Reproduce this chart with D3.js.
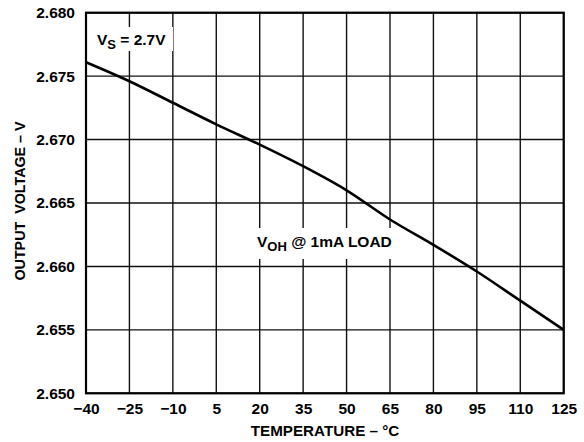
<!DOCTYPE html>
<html><head><meta charset="utf-8">
<script src="https://cdn.jsdelivr.net/npm/d3@7"></script>
<style>body{margin:0;background:#fff}svg text{font-family:"Liberation Sans",Arial,sans-serif;font-weight:bold;fill:#000}</style>
</head><body>
<svg id="c" width="584" height="442"></svg>
<script>
const temps = [-40, -25, -10, 5, 20, 35, 50, 65, 80, 95, 110, 125];
const voh = [2.6761, 2.6746, 2.6729, 2.6712, 2.6696, 2.6679, 2.6660, 2.6637, 2.6617, 2.6596, 2.6573, 2.6550];
const xTicks = [-40, -25, -10, 5, 20, 35, 50, 65, 80, 95, 110, 125];
const yTicks = [2.650, 2.655, 2.660, 2.665, 2.670, 2.675, 2.680];

const svg = d3.select("#c");
const L = 86, R = 563.7, T = 12.7, B = 393.3;
const x = d3.scaleLinear().domain([-40, 125]).range([L, R]);
const y = d3.scaleLinear().domain([2.650, 2.680]).range([B, T]);

const g = svg.append("g");
g.selectAll(".vx").data(xTicks).enter().append("line")
  .attr("x1", d => x(d)).attr("x2", d => x(d)).attr("y1", T).attr("y2", B)
  .attr("stroke", "#111").attr("stroke-width", 1.4);
g.selectAll(".hy").data(yTicks).enter().append("line")
  .attr("x1", L).attr("x2", R).attr("y1", d => y(d)).attr("y2", d => y(d))
  .attr("stroke", "#111").attr("stroke-width", 1.4);

svg.append("rect").attr("x", 93).attr("y", 27).attr("width", 80).attr("height", 24).attr("fill", "#fff");
svg.append("rect").attr("x", 251).attr("y", 228).attr("width", 149).attr("height", 31).attr("fill", "#fff");

svg.append("rect").attr("x", L).attr("y", T).attr("width", R - L).attr("height", B - T)
  .attr("fill", "none").attr("stroke", "#000").attr("stroke-width", 2.2);

svg.append("path").datum(temps.map((t, i) => [t, voh[i]]))
  .attr("d", d3.line().x(d => x(d[0])).y(d => y(d[1])).curve(d3.curveMonotoneX))
  .attr("fill", "none").attr("stroke", "#000").attr("stroke-width", 2.6);

const yAxis = d3.axisLeft(y).tickValues(yTicks).tickFormat(d3.format(".3f")).tickSize(0).tickPadding(11);
const ya = svg.append("g").attr("transform", `translate(${L},0)`).call(yAxis);
const xAxis = d3.axisBottom(x).tickValues(xTicks).tickFormat(d => d < 0 ? "\u2212" + Math.abs(d) : d).tickSize(0).tickPadding(10);
const xa = svg.append("g").attr("transform", `translate(0,${B})`).call(xAxis);
[ya, xa].forEach(a => { a.select(".domain").remove(); a.selectAll("text").attr("font-size", 15.5).attr("font-family", null); });

svg.append("text").attr("x", 325).attr("y", 436).attr("text-anchor", "middle").attr("font-size", 15.2)
  .text("TEMPERATURE \u2013 \u00B0C");
svg.append("text").attr("transform", "translate(25,201) rotate(-90)").attr("text-anchor", "middle").attr("font-size", 14.3)
  .attr("xml:space", "preserve").style("white-space", "pre")
  .text("OUTPUT  VOLTAGE \u2013 V");

const t1 = svg.append("text").attr("x", 97).attr("y", 45).attr("font-size", 15.5);
t1.append("tspan").text("V");
t1.append("tspan").attr("dy", 4).attr("font-size", 13).text("S");
t1.append("tspan").attr("dy", -4).text(" = 2.7V");

const t2 = svg.append("text").attr("x", 257).attr("y", 247).attr("font-size", 15.5);
t2.append("tspan").text("V");
t2.append("tspan").attr("dy", 4).attr("font-size", 13).text("OH");
t2.append("tspan").attr("dy", -4).text(" @ 1mA LOAD");
</script>
</body></html>
